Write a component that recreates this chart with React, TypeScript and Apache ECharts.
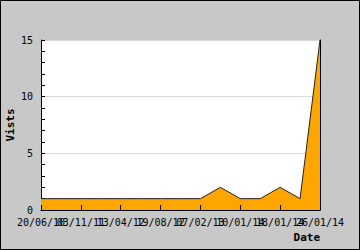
import React, { useEffect, useRef } from "react";
import * as echarts from "echarts";

const categories = [
  "20/06/10", "27/02/11", "03/11/11", "18/01/12", "13/04/12", "01/06/12", "19/08/12", "10/11/12",
  "07/02/13", "06/01/14", "10/01/14", "14/01/14", "18/01/14", "22/01/14", "26/01/14",
];
const visits = [1, 1, 1, 1, 1, 1, 1, 1, 1, 2, 1, 1, 2, 1, 15];
const yTicks = [0, 5, 10, 15];
// labels next to the first / last one are drawn by an overlay axis
const overlayLabelIdx = [2, 12];
const yName = "Vists";
const xName = "Date";

const FONT = "DejaVu Sans Mono";

export default function App() {
  const ref = useRef<HTMLDivElement>(null);
  useEffect(() => {
    if (!ref.current) return;
    const chart = echarts.init(ref.current, undefined, { renderer: "svg" });
    const labelBase = {
      interval: 1, color: "#000", fontFamily: FONT, fontSize: 10, margin: 7, hideOverlap: false,
    };
    chart.setOption({
      animation: false,
      backgroundColor: "#c8c8c8",
      grid: {
        left: 41, top: 40, width: 279, height: 170,
        show: true, backgroundColor: "#ffffff", borderWidth: 0,
        containLabel: false, outerBoundsMode: "none",
      },
      xAxis: [
        {
          type: "category",
          data: categories,
          boundaryGap: false,
          z: 5,
          axisLine: { show: true, lineStyle: { color: "#000", width: 1 } },
          axisTick: { show: true, inside: true, length: 5, interval: 1, lineStyle: { color: "#000" } },
          axisLabel: {
            ...labelBase,
            showMinLabel: true, showMaxLabel: true,
            formatter: (v: string, i: number) => (overlayLabelIdx.includes(i) ? "" : v),
          },
          splitLine: { show: false },
        },
        {
          type: "category",
          data: categories,
          boundaryGap: false,
          position: "bottom",
          z: 5,
          axisLine: { show: false },
          axisTick: { show: false },
          axisLabel: {
            ...labelBase,
            formatter: (v: string, i: number) => (overlayLabelIdx.includes(i) ? v : ""),
          },
          splitLine: { show: false },
        },
      ],
      yAxis: [
        {
          type: "value",
          min: yTicks[0],
          max: yTicks[yTicks.length - 1],
          interval: 5,
          axisLine: { show: true, lineStyle: { color: "#000", width: 1 } },
          axisTick: { show: true, inside: true, length: 4, lineStyle: { color: "#000" } },
          minorTick: { show: true, splitNumber: 5, length: 4, lineStyle: { color: "#000" } },
          axisLabel: { color: "#000", fontFamily: FONT, fontSize: 10, margin: 8 },
          splitLine: { show: true, lineStyle: { color: "#d8d8d8", width: 1 } },
        },
        {
          type: "value",
          position: "right",
          min: yTicks[0],
          max: yTicks[yTicks.length - 1],
          interval: 5,
          axisLine: { show: true, lineStyle: { color: "#000", width: 1 } },
          axisTick: { show: false },
          axisLabel: { show: false },
          splitLine: { show: false },
        },
      ],
      series: [
        {
          type: "line",
          data: visits,
          symbol: "none",
          lineStyle: { color: "#222", width: 1 },
          areaStyle: { color: "#ffa500", opacity: 1 },
        },
      ],
      graphic: [
        {
          type: "text",
          x: 10,
          y: 125,
          rotation: Math.PI / 2,
          style: {
            text: yName, fill: "#000", font: "bold 11px 'DejaVu Sans Mono'",
            align: "center", verticalAlign: "middle",
          },
        },
        {
          type: "text",
          right: 40,
          top: 232,
          style: { text: xName, fill: "#000", font: "bold 11px 'DejaVu Sans Mono'" },
        },
        {
          type: "rect",
          shape: { x: 0.5, y: 0.5, width: 359, height: 249 },
          style: { fill: "none", stroke: "#000", lineWidth: 1 },
          z: 100,
        },
      ],
    });
    return () => chart.dispose();
  }, []);
  return (
    <div
      ref={ref}
      style={{ position: "fixed", left: 0, top: 0, width: 360, height: 250 }}
    />
  );
}
